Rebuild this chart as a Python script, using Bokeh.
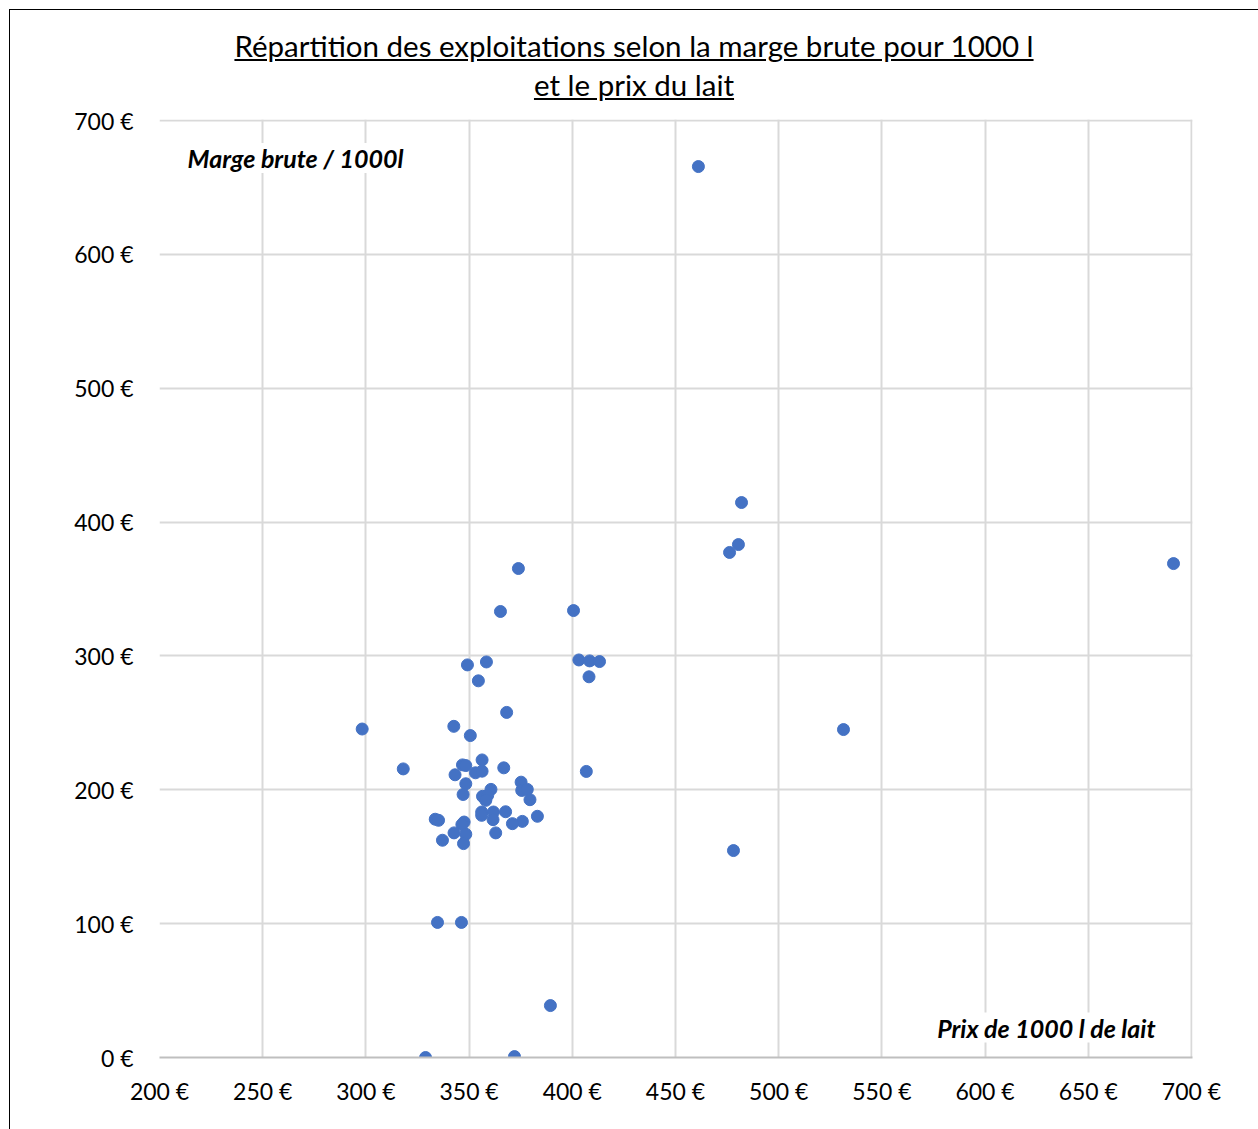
from bokeh.plotting import figure
from bokeh.models import Label, FixedTicker, PrintfTickFormatter, Div
from bokeh.layouts import column
from bokeh.embed import file_html
from bokeh.resources import INLINE

# Data (milk price per 1000 l, gross margin per 1000 l)
prix = [461.1, 482.0, 480.5, 476.2, 691.3, 373.9, 365.2, 400.6, 531.4, 478.1,
        334.7, 346.3, 389.4, 328.9, 372.0, 349.2, 358.4, 354.5, 403.2, 408.4,
        413.2, 408.1, 368.2, 298.2, 342.6, 350.6, 318.1, 356.3, 346.8, 348.4,
        366.8, 353.1, 356.3, 343.2, 406.8, 348.4, 375.2, 347.1, 360.6, 375.5,
        378.2, 379.5, 356.5, 359.0, 358.1, 356.1, 361.8, 356.1, 361.6, 367.7,
        383.1, 375.8, 371.0, 333.6, 335.2, 347.6, 346.5, 342.7, 348.4, 362.9,
        337.1, 347.3]
marge = [665.6, 414.6, 383.2, 377.3, 369.0, 365.3, 333.2, 333.9, 245.0, 154.6,
         100.9, 100.9, 38.8, 0.0, 0.7, 293.3, 295.5, 281.4, 297.0, 296.3,
         295.8, 284.4, 257.8, 245.4, 247.4, 240.5, 215.6, 222.3, 218.6, 218.1,
         216.4, 212.7, 213.9, 211.2, 213.7, 204.5, 205.7, 196.5, 200.3, 199.5,
         200.3, 192.6, 195.1, 195.8, 192.1, 183.4, 183.4, 180.9, 177.7, 183.6,
         180.2, 176.4, 174.7, 178.0, 177.2, 175.9, 174.0, 167.8, 166.8, 167.8,
         162.3, 159.8]
x_ticks = [200, 250, 300, 350, 400, 450, 500, 550, 600, 650, 700]
y_ticks = [0, 100, 200, 300, 400, 500, 600, 700]

FONT = "Lato"

title = Div(
    text=("<div style='width:1248px; text-align:center; font-family:Lato; font-size:29.5px; "
          "line-height:39px; text-decoration:underline; color:#000; padding-top:16px;'>"
          "Répartition des exploitations selon la marge brute pour 1000 l<br>et le prix du lait</div>"),
    width=1248, height=94, margin=(0, 0, 0, 0))

p = figure(width=1248, height=1025, output_backend="svg", toolbar_location=None,
           x_range=(200, 700.5), y_range=(0, 700.75),
           min_border_left=149, min_border_right=66, min_border_top=15, min_border_bottom=72,
           margin=(0, 0, 0, 0))
p.outline_line_color = None
p.background_fill_color = "white"
p.border_fill_color = "white"

p.xaxis.ticker = FixedTicker(ticks=x_ticks)
p.yaxis.ticker = FixedTicker(ticks=y_ticks)
p.xaxis.formatter = PrintfTickFormatter(format="%d €")
p.yaxis.formatter = PrintfTickFormatter(format="%d €")
for ax in (p.xaxis, p.yaxis):
    ax.major_tick_line_color = None
    ax.minor_tick_line_color = None
    ax.major_label_text_font = FONT
    ax.major_label_text_font_size = "23px"
    ax.major_label_text_color = "#000000"
p.yaxis.axis_line_color = None
p.yaxis.major_label_standoff = 20
p.xaxis.axis_line_color = "#bfbfbf"
p.xaxis.axis_line_width = 2
p.xaxis.major_label_standoff = 13

p.xgrid.grid_line_color = "#d9d9d9"
p.ygrid.grid_line_color = "#d9d9d9"
p.xgrid.grid_line_width = 2
p.ygrid.grid_line_width = 2

p.scatter(prix, marge, size=12, fill_color="#4472C4", line_color="#4472C4")

p.add_layout(Label(x=213.6, y=672.0, text="Marge brute / 1000l", text_font=FONT,
                   text_font_size="25px", text_font_style="bold italic", text_color="#000000",
                   text_baseline="middle", text_align="left",
                   background_fill_color="white", border_line_color=None))
p.add_layout(Label(x=682.6, y=22.4, text="Prix de 1000 l de lait", text_font=FONT,
                   text_font_size="25px", text_font_style="bold italic", text_color="#000000",
                   text_baseline="middle", text_align="right",
                   background_fill_color="white", border_line_color=None))

layout = column(title, p, spacing=0, margin=(9, 0, 0, 9),
                styles={"border-left": "1px solid black", "border-top": "1px solid black",
                        "background-color": "white"})

open("out.html", "w").write(file_html(layout, INLINE))
